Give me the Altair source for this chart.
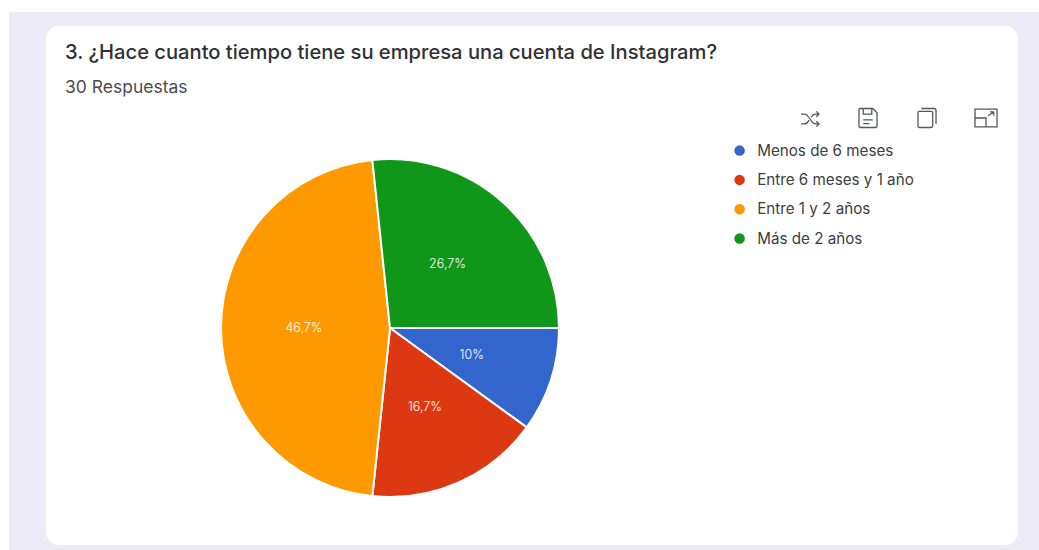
import math
import altair as alt
import pandas as pd

W, H = 1039, 550

# Survey answers out of 30 responses
categories = ["Menos de 6 meses", "Entre 6 meses y 1 año", "Entre 1 y 2 años", "Más de 2 años"]
counts = [3, 5, 14, 8]
share_labels = ["10%", "16,7%", "46,7%", "26,7%"]
colors = ["#3366CC", "#DC3912", "#FF9900", "#109618"]

title_text = "3. ¿Hace cuanto tiempo tiene su empresa una cuenta de Instagram?"
subtitle_text = "30 Respuestas"

# Toolbar glyphs as unit-square outlines
icon_shuffle = ("M-1,-0.55 L-0.6,-0.55 C-0.1,-0.55 0.1,0.55 0.6,0.55 L1,0.55 "
                "M-1,0.55 L-0.6,0.55 C-0.35,0.55 -0.2,0.3 -0.1,0.12 "
                "M0.12,-0.2 C0.25,-0.4 0.4,-0.55 0.6,-0.55 L1,-0.55 "
                "M0.7,-0.85 L1,-0.55 L0.7,-0.25 M0.7,0.25 L1,0.55 L0.7,0.85")
icon_save = ("M-0.85,-1 L0.5,-1 L0.95,-0.55 L0.95,0.85 Q0.95,1 0.8,1 L-0.8,1 Q-0.95,1 -0.95,0.85 "
             "L-0.95,-0.85 Q-0.95,-1 -0.85,-1 Z M-0.5,-1 L-0.5,-0.4 L0.4,-0.4 L0.4,-1 "
             "M-0.5,0.2 L0.5,0.2 M-0.5,0.6 L0.15,0.6")
icon_copy = ("M-0.95,-0.55 Q-0.95,-0.7 -0.8,-0.7 L0.4,-0.7 Q0.6,-0.7 0.6,-0.55 L0.6,0.85 Q0.6,1 0.4,1 "
             "L-0.8,1 Q-0.95,1 -0.95,0.85 Z M-0.6,-1 L0.75,-1 Q0.95,-1 0.95,-0.8 L0.95,0.6")
icon_expand = ("M-1,-0.8 L1,-0.8 L1,0.8 L-1,0.8 Z M-1,0 L0,0 L0,0.8 "
               "M0.2,-0.2 L0.7,-0.55 M0.35,-0.55 L0.7,-0.55 L0.7,-0.2")
icons = [(icon_shuffle, 810, 119), (icon_save, 868, 118), (icon_copy, 927, 118), (icon_expand, 986, 118)]

blank = pd.DataFrame({"_": [0]})

page = alt.Chart(blank).mark_rect(color="#EEEBF8").encode(
    x=alt.value(9), x2=alt.value(W), y=alt.value(12), y2=alt.value(H))
card = alt.Chart(blank).mark_rect(color="#FFFFFF", cornerRadius=13).encode(
    x=alt.value(46), x2=alt.value(1018), y=alt.value(26), y2=alt.value(545))

title = alt.Chart(blank).mark_text(
    text=title_text, font="Inter", fontSize=20.15, fontWeight=500, color="#303134",
    align="left", baseline="middle").encode(x=alt.value(65), y=alt.value(53))
subtitle = alt.Chart(blank).mark_text(
    text=subtitle_text, font="Inter", fontSize=17.5, color="#4a4c4f",
    align="left", baseline="middle").encode(x=alt.value(65), y=alt.value(88))

toolbar = [
    alt.Chart(blank).mark_point(shape=path, size=size, filled=False, stroke="#55575b",
                                strokeWidth=1.3, opacity=1).encode(x=alt.value(px), y=alt.value(py))
    for (path, px, py), size in zip(icons, [324, 361, 361, 484])
]

data = pd.DataFrame({
    "answer": categories,
    "count": counts,
    "label": share_labels,
    "rank": range(len(categories)),
})
theta_scale = alt.Scale(range=[math.pi / 2, math.pi / 2 + 2 * math.pi])
theta = alt.Theta("count:Q", stack=True, scale=theta_scale)
order = alt.Order("rank:O")

pie = alt.Chart(data).mark_arc(outerRadius=169, stroke="#FFFFFF", strokeWidth=2).encode(
    theta=theta,
    order=order,
    x=alt.value(390),
    y=alt.value(328),
    color=alt.Color(
        "answer:N",
        sort=categories,
        scale=alt.Scale(domain=categories, range=colors),
        legend=alt.Legend(
            orient="none", legendX=732, legendY=143, title=None,
            symbolType="circle", symbolSize=110, symbolStrokeWidth=0,
            labelFont="Inter", labelFontSize=15.2, labelColor="#3c4043",
            rowPadding=13.3, labelOffset=10, labelLimit=280,
        ),
    ),
)

slice_text = alt.Chart(data).mark_text(
    radius=86, font="Inter", fontSize=12.5, fontWeight=300, color="#FFFFFF", baseline="middle").encode(
    theta=theta,
    order=order,
    x=alt.value(390),
    y=alt.value(328),
    text="label:N",
)

chart = alt.layer(page, card, title, subtitle, *toolbar, pie, slice_text).properties(
    width=W, height=H, padding=0, autosize=alt.AutoSizeParams(type="none"),
    background="#FFFFFF",
).configure_view(strokeWidth=0)

chart.save("out.html", embed_options={"renderer": "svg", "actions": False})
